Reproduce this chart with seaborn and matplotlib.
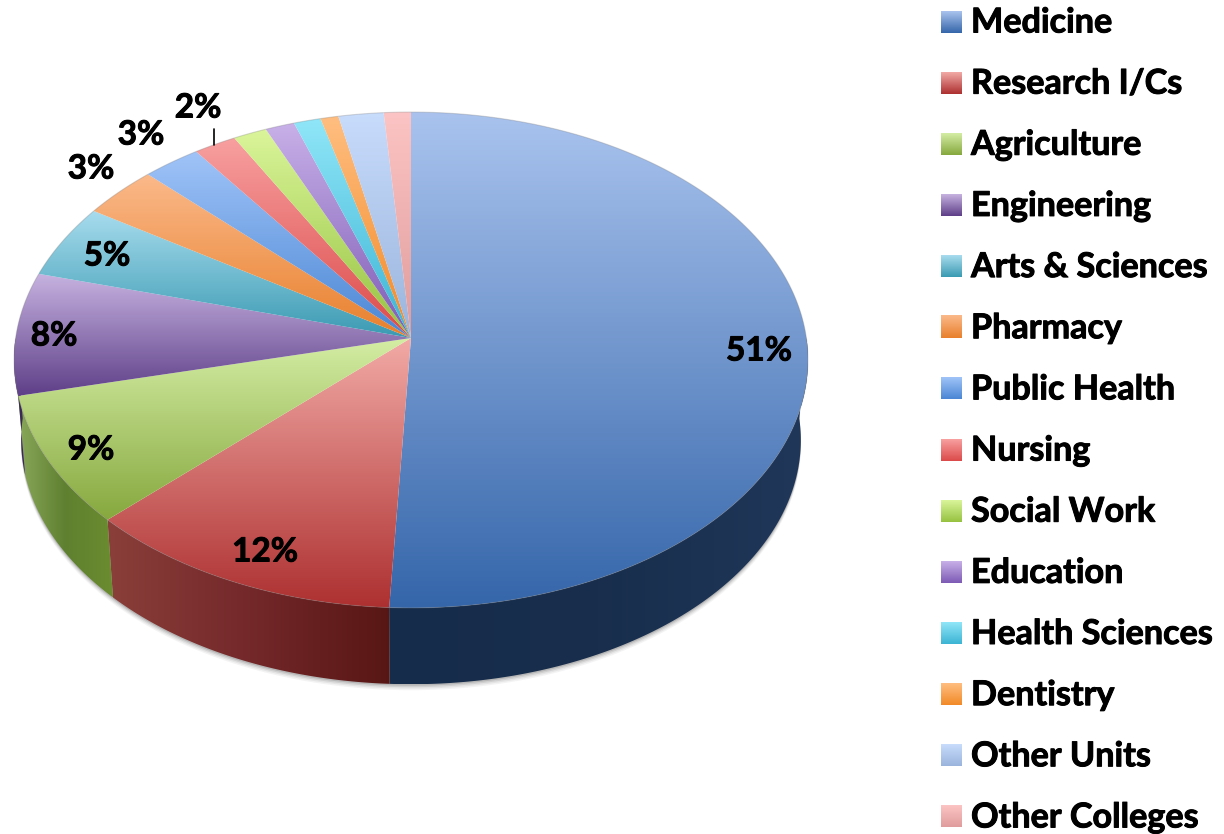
import numpy as np
import matplotlib
matplotlib.use('Agg')
import matplotlib.pyplot as plt
import matplotlib.patheffects as pe
from matplotlib.patches import PathPatch, Polygon
from matplotlib.path import Path
import seaborn as sb

units = ['Medicine', 'Research I/Cs', 'Agriculture', 'Engineering', 'Arts & Sciences',
         'Pharmacy', 'Public Health', 'Nursing', 'Social Work', 'Education',
         'Health Sciences', 'Dentistry', 'Other Units', 'Other Colleges']
shares = [50.8, 12.0, 8.5, 8.0, 4.8, 3.4, 2.6, 1.9, 1.5, 1.3, 1.2, 0.8, 2.0, 1.2]
pct_labels = ['51%', '12%', '9%', '8%', '5%', '3%', '3%', '2%']

light = ['#a9c3ee', '#f2aaa6', '#d4eda4', '#c6b2e0', '#a8dcee', '#fbb98a', '#a0c4f8',
         '#f8a0a0', '#daf59a', '#c8b0e8', '#90e6f8', '#ffbe80', '#c8dcfc', '#fcc4c4']
dark = ['#3566aa', '#ad3030', '#86a83e', '#5e3f88', '#3a9ab2', '#e8802c', '#4a86d4',
        '#dc4a4a', '#96c240', '#7d5bb5', '#3cb4d4', '#f28a28', '#9ab4dc', '#e09c9c']
wall_stops = {'Medicine': ['#152c4a', '#182e4c', '#20375a'],
              'Research I/Cs': ['#8a3f3a', '#74282a', '#571614'],
              'Agriculture': ['#8aa85a', '#5f8030', '#6b8c2f'],
              'Engineering': ['#3a2a55', '#3a2a55']}

# where the percent labels sit, in pixels
label_xy = [(759, 351), (265, 552), (91, 450), (54, 336), (107, 256), (91, 169), (141, 135), (198, 108)]

sb.set_theme(style='white')
plt.rcParams['font.family'] = ['Lato', 'DejaVu Sans']

CX, CY = 411, 338
A, B, K = 395.4, 246.0, 0.0887
heavy = [pe.withStroke(linewidth=0.7, foreground='black')]


def top_rim(theta):
    t = np.radians(theta)
    w = 1 + K * np.sin(t)
    return CX + A * np.cos(t) / w, CY - B * np.sin(t) / w


def bottom_rim(theta):
    x, y = top_rim(theta)
    return CX + 0.982 * (x - CX), 360 + 0.985 * (y - 360) + 80


def gradient_fill(ax, verts, cmap, horizontal=False, zorder=2):
    poly = Path(np.vstack([verts, verts[0]]), closed=True)
    x0, y0 = verts.min(axis=0)
    x1, y1 = verts.max(axis=0)
    grad = np.linspace(0, 1, 256)
    grad = grad[None, :] if horizontal else grad[:, None]
    im = ax.imshow(grad, extent=(x0, x1, y1, y0), cmap=cmap, aspect='auto',
                   interpolation='bilinear', zorder=zorder)
    im.set_clip_path(PathPatch(poly, transform=ax.transData))


fig = plt.figure(figsize=(12.24, 8.34), dpi=100)
ax = fig.add_axes([0, 0, 1, 1])

# pie only used for the slice angles, the slanted disc is drawn from them
wedges, _ = ax.pie(shares, startangle=90, counterclock=False)
angles = [(w.theta1, w.theta2) for w in wedges]
for w in wedges:
    w.remove()

ax.set_aspect('auto')
ax.autoscale(False)
ax.set_axis_off()

# soft shadow under the wall
front = np.linspace(-180, 0, 200)
bx, by = bottom_rim(front)
tx, ty = top_rim(front)
for off, alpha in zip([6, 4.5, 3, 1.5], [0.06, 0.08, 0.12, 0.18]):
    pts = np.column_stack([np.r_[tx, bx[::-1]], np.r_[ty, by[::-1] + off]])
    ax.add_patch(Polygon(pts, closed=True, fc='#404040', ec='none', alpha=alpha, zorder=1))

# side wall, only the front half can be seen
for name, (t1, t2) in zip(units, angles):
    lo, hi = max(t1, -180), min(t2, 0)
    if hi <= lo or name not in wall_stops:
        continue
    th = np.linspace(lo, hi, 150)
    x1, y1 = top_rim(th)
    x2, y2 = bottom_rim(th)
    verts = np.column_stack([np.r_[x1, x2[::-1]], np.r_[y1, y2[::-1]]])
    gradient_fill(ax, verts, sb.blend_palette(wall_stops[name], as_cmap=True), horizontal=True, zorder=2)

# top of the pie
for (t1, t2), c1, c2 in zip(angles, light, dark):
    th = np.linspace(t1, t2, 200)
    x, y = top_rim(th)
    verts = np.column_stack([np.r_[CX, x], np.r_[CY, y]])
    gradient_fill(ax, verts, sb.blend_palette([c1, c2], as_cmap=True), zorder=3)

rx, ry = top_rim(np.linspace(0, 360, 400))
ax.plot(rx, ry, color='#808080', lw=0.8, alpha=0.3, zorder=4)

for txt, (x, y) in zip(pct_labels, label_xy):
    ax.text(x, y, txt, ha='center', va='center', fontsize=24, fontweight='bold', color='black',
            path_effects=heavy, zorder=5)
ax.plot([214, 214], [129, 145], color='black', lw=1.2, zorder=5)

# legend
rows = 21.5 + 61.15 * np.arange(len(units))
for name, c1, c2, y in zip(units, light, dark, rows):
    ax.imshow(np.linspace(0, 1, 64)[:, None], extent=(941, 962, y + 11, y - 11), aspect='auto',
              cmap=sb.blend_palette([c1, c2], as_cmap=True), interpolation='bilinear', zorder=3)
    ax.text(971, y + 1, name, ha='left', va='center', fontsize=24.6, fontweight='bold', color='black',
            path_effects=heavy)

ax.set_xlim(0, 1224)
ax.set_ylim(834, 0)
fig.savefig('out.png', dpi=100, facecolor='white')
